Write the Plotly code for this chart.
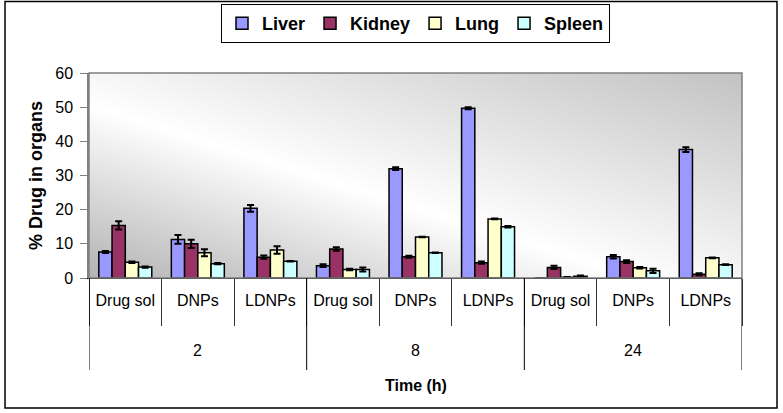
import base64
import plotly.graph_objects as go

groups = ["2", "8", "24"]
forms = ["Drug sol", "DNPs", "LDNPs"]

liver = [7.6, 11.3, 20.4, 3.6, 32.0, 49.7, 0.0, 6.2, 37.6]
liver_err = [0.3, 1.3, 1.0, 0.4, 0.4, 0.3, 0.0, 0.5, 0.7]
kidney = [15.4, 10.0, 6.1, 8.5, 6.2, 4.5, 3.1, 4.8, 1.1]
kidney_err = [1.2, 1.2, 0.5, 0.5, 0.3, 0.3, 0.5, 0.4, 0.3]
lung = [4.6, 7.4, 8.2, 2.5, 12.0, 17.3, 0.2, 3.0, 5.9]
lung_err = [0.2, 1.0, 1.1, 0.2, 0.1, 0.1, 0.1, 0.2, 0.1]
spleen = [3.2, 4.2, 4.9, 2.5, 7.4, 15.0, 0.5, 2.1, 3.9]
spleen_err = [0.2, 0.2, 0.1, 0.6, 0.1, 0.2, 0.2, 0.6, 0.1]

series = [
    ("Liver", liver, liver_err, "#9999FF"),
    ("Kidney", kidney, kidney_err, "#993366"),
    ("Lung", lung, lung_err, "#FFFFCC"),
    ("Spleen", spleen, spleen_err, "#CCFFFF"),
]

n_sub = len(forms)
n_cat = len(groups) * n_sub
xpos = list(range(n_cat))
ticktext = [f for _ in groups for f in forms]

fig = go.Figure()
for name, vals, errs, col in series:
    fig.add_trace(go.Bar(
        x=xpos, y=vals, name=name,
        marker=dict(color=col, line=dict(color="black", width=1.5)),
        error_y=dict(type="data", array=errs, visible=True, color="black",
                     thickness=2, width=3.5),
    ))

svg = ('<svg xmlns="http://www.w3.org/2000/svg" width="200" height="100" '
       'preserveAspectRatio="none" viewBox="0 0 200 100">'
       '<defs><linearGradient id="g" x1="0" y1="1" x2="1" y2="0">'
       '<stop offset="0" stop-color="#b2b2b2"/>'
       '<stop offset="0.42" stop-color="#ffffff"/>'
       '<stop offset="1" stop-color="#c2c2c2"/>'
       '</linearGradient></defs>'
       '<rect width="200" height="100" fill="url(#g)"/></svg>')
src = "data:image/svg+xml;base64," + base64.b64encode(svg.encode()).decode()

font_main = "Liberation Sans, Arial"
H = 205.0  # plot height in px, for paper offsets

shapes = [dict(type="rect", xref="paper", yref="paper",
               x0=-0.1286, x1=1.0536, y0=-130 / H, y1=276.5 / H,
               line=dict(color="black", width=1.5))]
# plot-area frame
shapes.append(dict(type="rect", xref="paper", yref="paper", x0=0, x1=1, y0=0, y1=1,
                   line=dict(color="#808080", width=1.5), layer="above"))
# group dividers
for gi in range(len(groups) + 1):
    b = gi * n_sub - 0.5
    shapes.append(dict(type="line", xref="x", yref="paper", x0=b, x1=b,
                       y0=0, y1=-92 / H, line=dict(color="black", width=1)))

annotations = []
for gi, g in enumerate(groups):
    annotations.append(dict(x=gi * n_sub + (n_sub - 1) / 2, y=-72 / H, xref="x", yref="paper",
                            xanchor="center", yanchor="middle",
                            text=g, showarrow=False, font=dict(size=16, family=font_main)))
annotations.append(dict(x=0.5, y=-107 / H, xref="paper", yref="paper", text="<b>Time (h)</b>",
                        xanchor="center", yanchor="middle",
                        showarrow=False, font=dict(size=16, family=font_main)))

fig.update_layout(
    width=783, height=413,
    margin=dict(l=89, r=41, t=73, b=135, autoexpand=False),
    paper_bgcolor="white", plot_bgcolor="white",
    barmode="group", bargap=0.27, bargroupgap=0,
    font=dict(family=font_main, color="black", size=16),
    legend=dict(orientation="h", x=0.5, xanchor="center", y=274 / H, yanchor="top",
                bordercolor="black", borderwidth=1, bgcolor="white",
                font=dict(size=18, family=font_main, weight="bold"),
                itemwidth=30),
    images=[dict(source=src, xref="paper", yref="paper", x=0, y=1,
                 sizex=1, sizey=1, xanchor="left", yanchor="top",
                 sizing="stretch", layer="below")],
    shapes=shapes,
    annotations=annotations,
)
fig.update_xaxes(
    range=[-0.5, n_cat - 0.5], tickmode="array", tickvals=xpos, ticktext=ticktext,
    ticks="", showline=True, linecolor="black", linewidth=1, showgrid=False,
    zeroline=False, tickfont=dict(size=16, family=font_main), ticklabelstandoff=8,
    minor=dict(tickmode="array", tickvals=[i - 0.5 for i in range(n_cat + 1)],
               ticks="outside", ticklen=47, tickcolor="#333333", tickwidth=1,
               showgrid=False),
)
fig.update_yaxes(
    range=[0, 60], dtick=10, ticks="outside", ticklen=7, tickcolor="#808080",
    showline=True, linecolor="#808080", linewidth=1.5, showgrid=False,
    zeroline=False, tickfont=dict(size=16), ticklabelstandoff=4,
    title=dict(text="% Drug in organs", font=dict(size=18, weight="bold"), standoff=8),
)

fig.write_html("out.html", config={"displayModeBar": False},
               post_script="document.body.style.margin='0';document.body.style.overflow='hidden';")
